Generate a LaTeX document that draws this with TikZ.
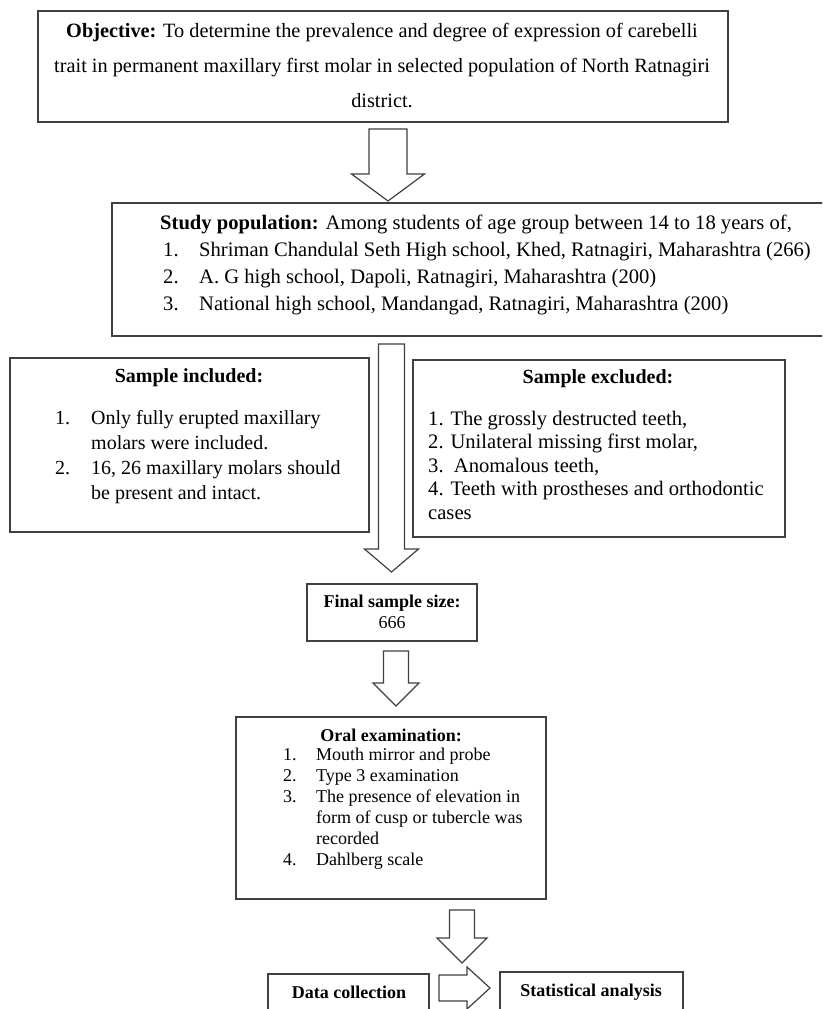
\documentclass[tikz,border=0pt]{standalone}
\usepackage{fontspec}
\setmainfont{Liberation Serif}
\usetikzlibrary{arrows, shapes}

\tikzset{
  box/.style={draw=black!75, line width=1.4pt, minimum width=#1, inner sep=0pt},
  txt/.style={inner sep=0pt, align=left},
  hollow/.style={draw=black!75, line width=1.2pt, fill=white, line join=miter},
  pics/downarrow/.style args={#1/#2/#3/#4}{code={
    \draw[hollow] (-#1,0) -- (#1,0) -- (#1,#3) -- (#2,#3) -- (0,#4)
      -- (-#2,#3) -- (-#1,#3) -- cycle;}},
  pics/rightarrow/.style args={#1/#2/#3/#4}{code={
    \draw[hollow] (0,-#1) -- (0,#1) -- (#3,#1) -- (#3,#2) -- (#4,0)
      -- (#3,-#2) -- (#3,-#1) -- cycle;}}
}
\newcommand{\num}[1]{\makebox[36pt][l]{#1}}

\begin{document}
\begin{tikzpicture}[x=1pt, y=-1pt]
\useasboundingbox (0,0) rectangle (822,1009);
\clip (0,0) rectangle (822,1009);

% boxes
\node[box=690pt, minimum height=111pt] (objective) at (383,66.5)   {};
\node[box=730pt, minimum height=133pt] (study)     at (477,269.5)  {};
\node[box=359pt, minimum height=174pt] (included)  at (189.5,445)  {};
\node[box=372pt, minimum height=177pt] (excluded)  at (599,448.5)  {};
\node[box=170pt, minimum height=57pt]  (final)     at (392,612.5)  {};
\node[box=310pt, minimum height=182pt] (oral)      at (391,808)    {};
\node[box=161pt, minimum height=70pt]  (datacoll)  at (348.5,1009) {};
\node[box=183pt, minimum height=70pt]  (stats)     at (591.5,1007) {};

% texts
\node[txt, align=center, font=\fontsize{20.3}{35}\selectfont] (objtxt) at (382,65)
  {\textbf{Objective:} To determine the prevalence and degree of expression of carebelli\\
   trait in permanent maxillary first molar in selected population of North Ratnagiri\\
   district.};

\node[txt, anchor=west, font=\fontsize{20.6}{27}\selectfont] (studytxt) at (160,265)
  {\textbf{Study population:} Among students of age group between 14 to 18 years of,\\
   \hspace*{3pt}\num{1.}Shriman Chandulal Seth High school, Khed, Ratnagiri, Maharashtra (266)\\
   \hspace*{3pt}\num{2.}A. G high school, Dapoli, Ratnagiri, Maharashtra (200)\\
   \hspace*{3pt}\num{3.}National high school, Mandangad, Ratnagiri, Maharashtra (200)};

\node[txt, font=\bfseries\fontsize{20}{25}\selectfont] (inctitle) at (189,378)
  {Sample included:};
\node[txt, anchor=west, font=\fontsize{20}{25}\selectfont] (inctxt) at (55,457)
  {\num{1.}Only fully erupted maxillary\\
   \hspace*{36pt}molars were included.\\
   \num{2.}16, 26 maxillary molars should\\
   \hspace*{36pt}be present and intact.};

\node[txt, font=\bfseries\fontsize{20}{25}\selectfont] (exctitle) at (598,379)
  {Sample excluded:};
\node[txt, anchor=west, font=\fontsize{20.6}{23.5}\selectfont] (exctxt) at (428,465)
  {1. The grossly destructed teeth,\\
   2. Unilateral missing first molar,\\
   3.\ \ Anomalous teeth,\\
   4. Teeth with prostheses and orthodontic\\
   cases};

\node[txt, align=center, font=\fontsize{18}{21}\selectfont] (finaltxt) at (392,612)
  {\textbf{Final sample size:}\\666};

\node[txt, font=\bfseries\fontsize{18}{21}\selectfont] (oraltitle) at (391,735)
  {Oral examination:};
\node[txt, anchor=west, font=\fontsize{18}{21}\selectfont] (oraltxt) at (283,809)
  {\makebox[33pt][l]{1.}Mouth mirror and probe\\
   \makebox[33pt][l]{2.}Type 3 examination\\
   \makebox[33pt][l]{3.}The presence of elevation in\\
   \hspace*{33pt}form of cusp or tubercle was\\
   \hspace*{33pt}recorded\\
   \makebox[33pt][l]{4.}Dahlberg scale};

\node[txt, font=\bfseries\fontsize{18}{20}\selectfont] (datatxt)  at (349,992) {Data collection};
\node[txt, font=\bfseries\fontsize{18}{20}\selectfont] (statstxt) at (591,992) {Statistical analysis};

% block arrows
\coordinate (a1) at (388,129);
\coordinate (a2) at (391.5,344);
\coordinate (a3) at (396,651);
\coordinate (a4) at (462,910);
\coordinate (a5) at (439,988);
\pic at (a1) {downarrow={19/36.5/45/72}};
\pic at (a2) {downarrow={13/27/205/228}};
\pic at (a3) {downarrow={12.5/23/32/55}};
\pic at (a4) {downarrow={12.5/25/28/53}};
\pic at (a5) {rightarrow={13/21/28/51}};

\end{tikzpicture}
\end{document}
